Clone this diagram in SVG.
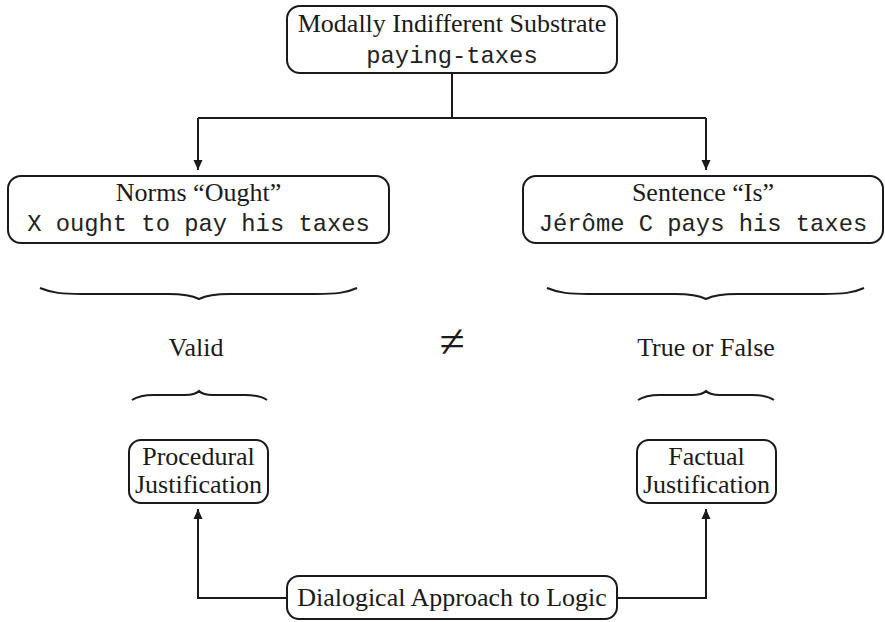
<svg xmlns="http://www.w3.org/2000/svg" width="885" height="622" viewBox="0 0 885 622">
  <style>
    .box { fill: #fff; stroke: #1a1a1a; stroke-width: 2; }
    .serif { font-family: "Liberation Serif", "Times New Roman", serif; font-size: 26px; fill: #1a1a1a; text-anchor: middle; }
    .mono { font-family: "Liberation Mono", "Courier New", monospace; font-size: 23.8px; fill: #222; text-anchor: middle; }
    .wire { fill: none; stroke: #1a1a1a; stroke-width: 2; }
    .brace { fill: none; stroke: #1a1a1a; stroke-width: 2; stroke-linejoin: miter; }
  </style>
  <defs>
    <marker id="arrow" viewBox="0 0 10 14" refX="10" refY="7" markerWidth="10" markerHeight="14" markerUnits="userSpaceOnUse" orient="auto">
      <path d="M0,2.5 L10,7 L0,11.5 Z" fill="#1a1a1a"/>
    </marker>
  </defs>

  <!-- connectors -->
  <g id="connectors">
    <path class="wire" d="M452,73 V118"/>
    <path class="wire" d="M198,118 H706"/>
    <path class="wire" d="M198,118 V170" marker-end="url(#arrow)"/>
    <path class="wire" d="M706,118 V170" marker-end="url(#arrow)"/>
    <path class="wire" d="M287,598 H198 V509" marker-end="url(#arrow)"/>
    <path class="wire" d="M617,598 H706 V509" marker-end="url(#arrow)"/>
  </g>

  <g id="substrate">
    <rect class="box" x="287" y="6" width="330" height="67" rx="13"/>
    <text class="serif" x="452" y="32">Modally Indifferent Substrate</text>
    <text class="mono" x="452" y="63">paying-taxes</text>
  </g>

  <g id="norms">
    <rect class="box" x="8" y="176" width="381" height="67" rx="13"/>
    <text class="serif" x="198.5" y="201">Norms “Ought”</text>
    <text class="mono" x="198.5" y="231">X ought to pay his taxes</text>
  </g>

  <g id="sentence">
    <rect class="box" x="523" y="176" width="360" height="67" rx="13"/>
    <text class="serif" x="703" y="201">Sentence “Is”</text>
    <text class="mono" x="703" y="231">Jérôme C pays his taxes</text>
  </g>

  <!-- underbraces beneath the two upper boxes, overbraces above the justifications -->
  <g id="braces">
    <path class="brace" d="M40,288 C52,293 62,294 82,294 L168,294 C186,294 193,296 199,299 C205,296 212,294 230,294 L316,294 C336,294 346,293 357,288"/>
    <path class="brace" d="M547,288 C559,293 569,294 589,294 L675,294 C693,294 700,296 706,299 C712,296 719,294 737,294 L823,294 C843,294 853,293 864,288"/>
    <path class="brace" d="M132,400 C138,396 144,395 154,395 L185,395 C193,395 196,394 199,391 C202,394 205,395 213,395 L245,395 C255,395 261,396 267,400"/>
    <path class="brace" d="M638,400 C644,396 650,395 660,395 L692,395 C700,395 703,394 706,391 C709,394 712,395 720,395 L752,395 C762,395 768,396 774,400"/>
  </g>

  <g id="valid">
    <text class="serif" x="196" y="356">Valid</text>
  </g>
  <g id="not-equal">
    <text class="serif" x="452" y="357" style="font-size:46px">≠</text>
  </g>
  <g id="true-false">
    <text class="serif" x="706" y="356">True or False</text>
  </g>

  <g id="procedural">
    <rect class="box" x="129" y="440" width="139" height="63" rx="12"/>
    <text class="serif" x="198.5" y="465">Procedural</text>
    <text class="serif" x="198.5" y="493">Justification</text>
  </g>

  <g id="factual">
    <rect class="box" x="637" y="440" width="139" height="63" rx="12"/>
    <text class="serif" x="706.5" y="465">Factual</text>
    <text class="serif" x="706.5" y="493">Justification</text>
  </g>

  <g id="dialogical">
    <rect class="box" x="287" y="576" width="330" height="43" rx="12"/>
    <text class="serif" x="452" y="606">Dialogical Approach to Logic</text>
  </g>
</svg>
